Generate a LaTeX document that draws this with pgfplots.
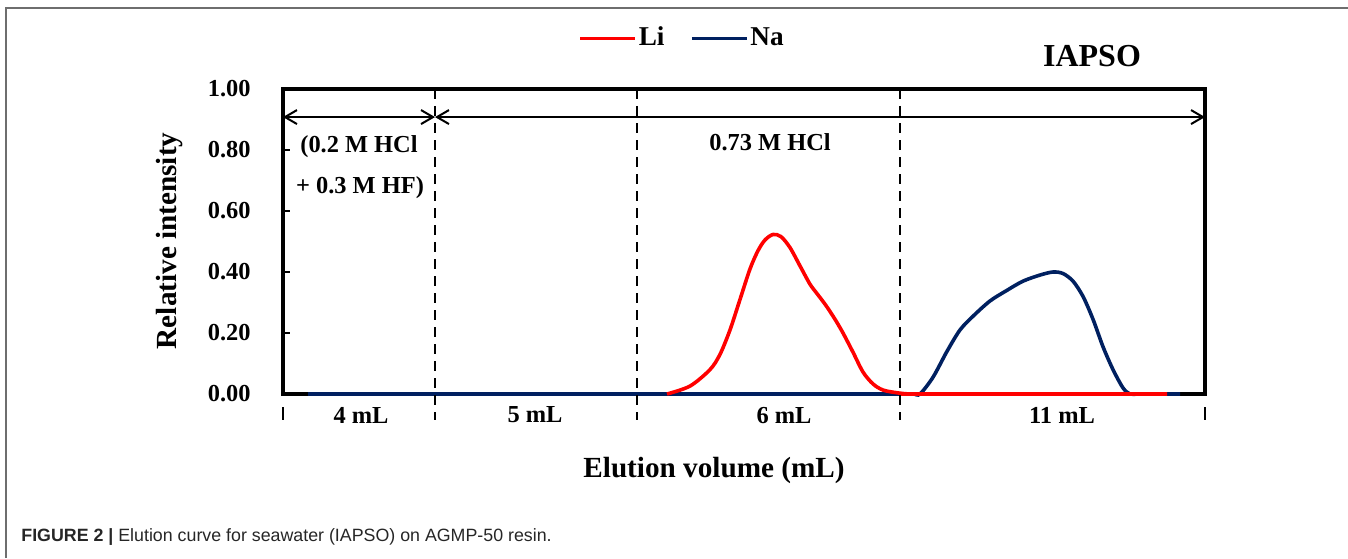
\documentclass[border=0pt]{standalone}
\usepackage{fontspec}
\setmainfont{Liberation Serif}
\newfontfamily\capfont{Liberation Sans}
\usepackage{pgfplots}
\pgfplotsset{compat=1.18}
\usetikzlibrary{arrows.meta}
\definecolor{liRed}{RGB}{255,0,0}
\definecolor{naBlue}{RGB}{0,32,96}
\definecolor{frameGray}{RGB}{110,110,110}
\newcommand{\lbl}{\fontsize{12.2}{14}\selectfont\bfseries}
\newcommand{\biglbl}{\fontsize{14.6}{17}\selectfont\bfseries}

\begin{document}
\begin{tikzpicture}
\useasboundingbox (0,0) rectangle (674pt,279pt);
% page frame, only top and left edge fall inside
\draw[frameGray, line width=0.75pt] (3pt,0) -- (3pt,275pt) -- (674pt,275pt);
\node[anchor=west, inner sep=0pt, text=black!85] at (10.5pt,10.5pt)
  {\capfont\fontsize{8.9}{10}\selectfont\textbf{FIGURE 2 |} Elution curve for seawater (IAPSO) on AGMP-50 resin.};

\begin{axis}[
    at={(141.5pt,82pt)}, anchor=south west,
    scale only axis, width=461pt, height=152.5pt,
    xmin=283, xmax=1205, ymin=0, ymax=1,
    clip=false,
    axis line style={line width=1.4pt},
    xtick=\empty,
    ytick={0,0.2,0.4,0.6,0.8,1},
    ytick pos=left, tick align=inside,
    major tick length=3.5pt,
    tick style={line width=0.9pt, black},
    yticklabel style={font=\lbl, inner sep=0pt, xshift=-16pt,
        /pgf/number format/.cd, fixed, fixed zerofill, precision=2, assume math mode=true},
    legend style={draw=none, fill=none, at={(axis description cs:0.433,1.167)}, anchor=center,
        legend columns=2, font=\fontsize{13.6}{16}\selectfont\bfseries,
        nodes={inner sep=1pt},
        /tikz/every even column/.append style={column sep=12pt}},
    legend image code/.code={\draw[#1, line width=1.5pt] (0pt,0pt) -- (27.5pt,0pt);},
    reverse legend,
]
% heavy frame, under the curves
\draw[black, line width=1.6pt] (rel axis cs:0,0) rectangle (rel axis cs:1,1);

\addplot[naBlue, line width=1.8pt, smooth, tension=0.5] coordinates {
    (308,0) (600,0) (880,0) (905,0) (914,0) (920,0) (933,0.055) (947,0.14) (960,0.21)
    (973,0.255) (990,0.305) (1007,0.34) (1023,0.37) (1040,0.39) (1053,0.40)
    (1063,0.395) (1073,0.37) (1083,0.32) (1093,0.245) (1103,0.155) (1113,0.08)
    (1123,0.02) (1130,0) (1138,0) (1150,0) (1180,0)
};
\addlegendentry{Na}
\addplot[liRed, line width=1.8pt, smooth, tension=0.5] coordinates {
    (667,0) (690,0.026) (710,0.08) (720,0.13) (730,0.21) (740,0.31) (750,0.41)
    (758,0.47) (765,0.505) (773,0.523) (781,0.516) (790,0.48) (800,0.42)
    (810,0.36) (818,0.325) (826,0.29) (835,0.245) (843,0.20) (853,0.137)
    (863,0.072) (873,0.033) (883,0.013) (897,0.004) (910,0) (925,0) (1167,0)
};
\addlegendentry{Li}

% fraction boundaries
\draw[black, line width=1pt, dash pattern=on 5pt off 3.5pt] (axis cs:435,1) -- (axis cs:435,-0.085);
\draw[black, line width=1pt, dash pattern=on 5pt off 3.5pt] (axis cs:637,1) -- (axis cs:637,-0.085);
\draw[black, line width=1pt, dash pattern=on 5pt off 3.5pt] (axis cs:900,1) -- (axis cs:900,-0.085);
\draw[black, line width=1pt] (axis cs:283,-0.043) -- (axis cs:283,-0.085);
\draw[black, line width=1pt] (axis cs:1205,-0.043) -- (axis cs:1205,-0.085);

% eluent ranges
\draw[black, line width=1pt, {Straight Barb[length=6pt,width=7pt]}-{Straight Barb[length=6pt,width=7pt]}]
  (axis cs:283,0.908) -- (axis cs:435,0.908);
\draw[black, line width=1pt, {Straight Barb[length=6pt,width=7pt]}-{Straight Barb[length=6pt,width=7pt]}]
  (axis cs:435,0.908) -- (axis cs:1205,0.908);

\node[font=\lbl] at (axis cs:359,0.81) {(0.2 M HCl};
\node[font=\lbl] at (axis cs:360,0.675) {+ 0.3 M HF)};
\node[font=\lbl] at (axis cs:770,0.826) {0.73 M HCl};

\node[font=\lbl] at (axis cs:361,-0.069) {4 mL};
\node[font=\lbl] at (axis cs:535,-0.069) {5 mL};
\node[font=\lbl] at (axis cs:784,-0.069) {6 mL};
\node[font=\lbl] at (axis cs:1062,-0.069) {11 mL};

\node[font=\fontsize{16}{19}\selectfont\bfseries] at (axis cs:1092,1.108) {IAPSO};
\node[font=\biglbl] at (axis cs:714,-0.252) {Elution volume (mL)};
\node[font=\biglbl, rotate=90] at (axis cs:170,0.502) {Relative intensity};
\end{axis}
\end{tikzpicture}
\end{document}
